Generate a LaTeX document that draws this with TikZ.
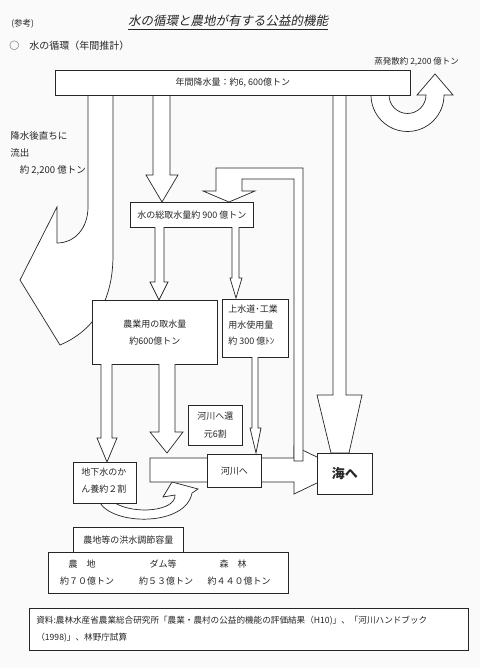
\documentclass[tikz,border=0pt]{standalone}
\usepackage{fontspec}
\setmainfont{Noto Sans CJK JP}
\newfontfamily\jpit{Noto Sans CJK JP}[FakeSlant=0.2]
\begin{document}
\begin{tikzpicture}[x=1pt,y=-1pt, line width=0.7pt, line join=miter,
  blk/.style={draw=black!85, fill=white},
  txt/.style={inner sep=0pt, font=\fontsize{9}{11}\selectfont, text=black!85},
  box/.style={draw=black!85, fill=white, inner sep=0pt, anchor=north west, font=\fontsize{9}{17}\selectfont, text=black!85, align=center}]
\fill[gray!4] (0,0) rectangle (480,668);
\useasboundingbox (0,0) rectangle (480,668);

% headings
\node[txt, font=\fontsize{8.5}{10}\selectfont, anchor=west] (ref) at (11,24) {(参考)};
\node[txt, font=\jpit\fontsize{12.5}{14}\selectfont] (title) at (228,21) {水の循環と農地が有する公益的機能};
\draw[black!85] ([yshift=-2pt]title.south west) -- ([yshift=-2pt]title.south east);
\node[txt, font=\fontsize{10}{12}\selectfont, anchor=west] (sub) at (9,46) {○\hspace{1em}水の循環（年間推計）};
\node[txt, font=\fontsize{8.5}{10}\selectfont, anchor=west] (evap) at (374,62) {蒸発散約 2,200 億トン};
\node[txt, anchor=west, align=left, font=\fontsize{9.5}{17}\selectfont] (run) at (10,153) {降水後直ちに\\流出\\\hspace{1em}約 2,200 億トン};

% big left arrow (runoff)
\draw[blk] (88,95) -- (88,207) .. controls (88,228) and (75,243) .. (57,243) -- (57,207) -- (20,280) -- (60,345) .. controls (95,330) and (113,300) .. (113,255) -- (113,95);

% arrow to total intake
\draw[blk] (153,95) -- (153,175) -- (146,175) -- (162,202) -- (178,175) -- (170,175) -- (170,95);

% sea arrow
\draw[blk] (333,95) -- (333,395) -- (317,395) -- (331,453) -- (349,453) -- (362,395) -- (346,395) -- (346,95);

% evaporation arrow
\draw[blk] (371,95) arc[start angle=180, end angle=0, radius=36.5] -- (453,95) -- (435,74) -- (417,95) -- (426,95) arc[start angle=0, end angle=180, radius=18.5] -- cycle;

% top bar
\node[box, minimum width=355pt, minimum height=25pt] (rain) at (55,70) {年間降水量：約6, 600億トン};

% small curved arrow (groundwater -> river)
\draw[blk] (100,503) .. controls (115,526) and (186,526) .. (192,493) -- (198,489) -- (172,482) -- (163,497) -- (175,495) .. controls (176,511) and (135,515) .. (115,503);

% river arrow to sea
\draw[blk] (150,458) -- (294,458) -- (294,446) -- (344,470) -- (294,494) -- (294,482) -- (150,482) -- cycle;

% return pipe into total intake
\draw[blk] (216,168) -- (216,191) -- (203,191) -- (229,202) -- (255,191) -- (242,191) -- (242,179) -- (294,179) -- (294,461) -- (303,461) -- (303,168) -- cycle;

% total intake box
\node[box, minimum width=123pt, minimum height=25pt] (total) at (130,202) {水の総取水量約 900 億トン};

% arrows from total
\draw[blk] (155,227) -- (155,282) -- (150,282) -- (159,300) -- (168,282) -- (164,282) -- (164,227);
\draw[blk] (232,227) -- (232,278) -- (230,278) -- (236,298) -- (242,278) -- (239,278) -- (239,227);

% agriculture box
\node[box, minimum width=125pt, minimum height=64pt] (agri) at (92,300) {農業用の取水量\\約600億トン};

% urban/industrial box
\node[box, minimum width=66pt, minimum height=58pt] (urban) at (222,299) {};
\node[txt, anchor=north west, align=left, font=\fontsize{9}{16}\selectfont] (urbant) at (228,305) {上水道･工業\\用水使用量\\約 300 億ﾄﾝ};

% arrow urban -> river
\draw[blk] (252,357) -- (252,428) -- (250,428) -- (256,453) -- (261,428) -- (258,428) -- (258,357);

% arrows from agriculture
\draw[blk] (101,364) -- (101,438) -- (97,438) -- (107,462) -- (117,438) -- (112,438) -- (112,364);
\draw[blk] (159,364) -- (159,432) -- (150,432) -- (167,453) -- (183,432) -- (175,432) -- (175,364);

% return 60% box
\node[box, minimum width=54pt, minimum height=40pt, font=\fontsize{9}{18}\selectfont] (ret) at (188,405) {河川へ還\\元6割};

% groundwater box
\node[box, minimum width=63pt, minimum height=41pt] (gw) at (73,462) {};
\node[txt, anchor=north west, align=left, font=\fontsize{9}{17}\selectfont] (gwt) at (81,468) {地下水のか\\ん養約２割};

% river and sea boxes
\node[box, minimum width=54pt, minimum height=33pt] (river) at (207,454) {河川へ};
\node[box, minimum width=55pt, minimum height=41pt, font=\bfseries\fontsize{13}{15}\selectfont] (sea) at (317,453) {海へ};

% flood storage
\node[box, minimum width=110pt, minimum height=25pt] (floodlbl) at (73,527) {農地等の洪水調節容量};
\node[box, minimum width=240pt, minimum height=41pt] (flood) at (48,552) {};
\node[txt] (f1a) at (82,564) {農\hspace{1em}地};
\node[txt] (f2a) at (163,564) {ダム等};
\node[txt] (f3a) at (233,564) {森\hspace{1em}林};
\node[txt] (f1b) at (87,581) {約７０億トン};
\node[txt] (f2b) at (166,581) {約５３億トン};
\node[txt] (f3b) at (239,581) {約４４０億トン};

% source
\node[box, minimum width=439pt, minimum height=42pt] (src) at (29,608) {};
\node[txt, anchor=north west, align=left, font=\fontsize{8.6}{17}\selectfont] (srct) at (36,616) {資料:農林水産省農業総合研究所「農業・農村の公益的機能の評価結果（H10)」、「河川ハンドブック\\（1998)」、林野庁試算};
\end{tikzpicture}
\end{document}
